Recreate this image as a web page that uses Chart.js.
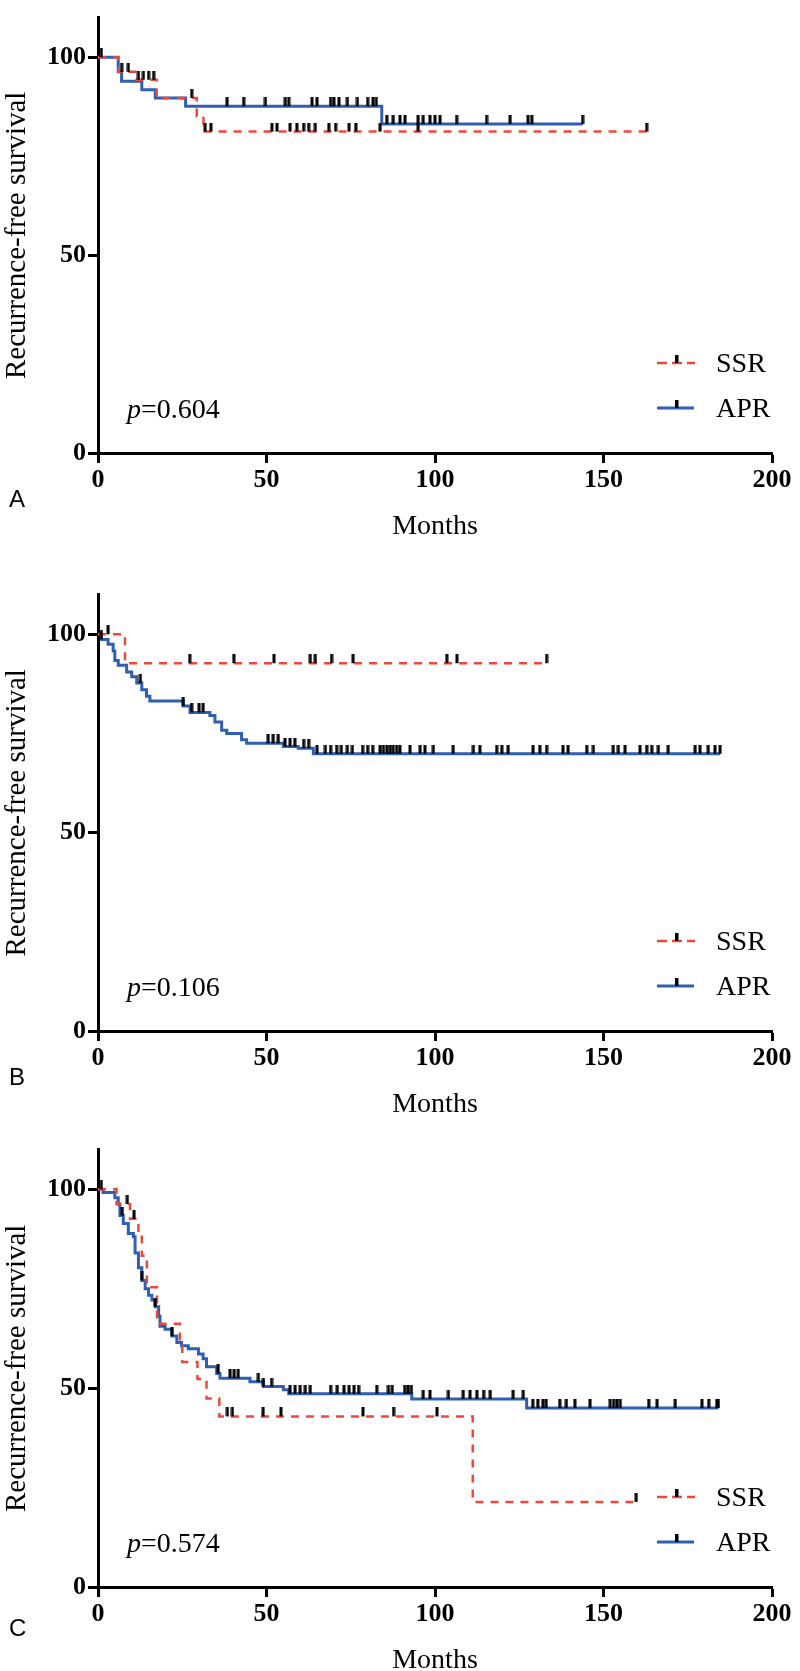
<!DOCTYPE html>
<html><head><meta charset="utf-8">
<script src="https://cdn.jsdelivr.net/npm/chart.js@4/dist/chart.umd.min.js"></script>
<style>
html,body{margin:0;padding:0;background:#fff;}
body{width:800px;height:1671px;overflow:hidden;position:relative;font-family:"Liberation Serif",serif;color:#000;}
canvas{position:absolute;left:0;}
.pv{position:absolute;left:127px;font-size:28px;line-height:1;transform:translateY(-50%);white-space:nowrap;z-index:2;}
.lgs{position:absolute;left:657px;width:40px;height:20px;transform:translateY(-60%);z-index:2;}
.lgt{position:absolute;left:716px;font-size:28px;line-height:1;transform:translateY(-50%);z-index:2;}
.let{position:absolute;left:9px;font-family:"Liberation Sans",sans-serif;font-size:24px;line-height:1;transform:translateY(-50%);z-index:2;}
</style></head><body>
<canvas id="cA" width="800" height="543" style="top:0px"></canvas>
<canvas id="cB" width="800" height="544" style="top:577px"></canvas>
<canvas id="cC" width="800" height="545" style="top:1132px"></canvas>

<div class="pv" style="top:409px"><i>p</i>=0.604</div>
<div class="pv" style="top:987px"><i>p</i>=0.106</div>
<div class="pv" style="top:1543px"><i>p</i>=0.574</div>

<svg class="lgs" style="top:363px" viewBox="0 0 40 20"><line x1="0" y1="12" x2="10" y2="12" stroke="#f0473c" stroke-width="2.5"/><line x1="15" y1="12" x2="25" y2="12" stroke="#f0473c" stroke-width="2.5"/><line x1="30" y1="12" x2="38" y2="12" stroke="#f0473c" stroke-width="2.5"/><rect x="18" y="4" width="3.5" height="8" fill="#000"/></svg>
<div class="lgt" style="top:363px">SSR</div>
<svg class="lgs" style="top:408px" viewBox="0 0 40 20"><line x1="0" y1="12" x2="37" y2="12" stroke="#2f5fb3" stroke-width="3"/><rect x="18" y="4" width="3.5" height="8" fill="#000"/></svg>
<div class="lgt" style="top:408px">APR</div>

<svg class="lgs" style="top:941px" viewBox="0 0 40 20"><line x1="0" y1="12" x2="10" y2="12" stroke="#f0473c" stroke-width="2.5"/><line x1="15" y1="12" x2="25" y2="12" stroke="#f0473c" stroke-width="2.5"/><line x1="30" y1="12" x2="38" y2="12" stroke="#f0473c" stroke-width="2.5"/><rect x="18" y="4" width="3.5" height="8" fill="#000"/></svg>
<div class="lgt" style="top:941px">SSR</div>
<svg class="lgs" style="top:986px" viewBox="0 0 40 20"><line x1="0" y1="12" x2="37" y2="12" stroke="#2f5fb3" stroke-width="3"/><rect x="18" y="4" width="3.5" height="8" fill="#000"/></svg>
<div class="lgt" style="top:986px">APR</div>

<svg class="lgs" style="top:1497px" viewBox="0 0 40 20"><line x1="0" y1="12" x2="10" y2="12" stroke="#f0473c" stroke-width="2.5"/><line x1="15" y1="12" x2="25" y2="12" stroke="#f0473c" stroke-width="2.5"/><line x1="30" y1="12" x2="38" y2="12" stroke="#f0473c" stroke-width="2.5"/><rect x="18" y="4" width="3.5" height="8" fill="#000"/></svg>
<div class="lgt" style="top:1497px">SSR</div>
<svg class="lgs" style="top:1542px" viewBox="0 0 40 20"><line x1="0" y1="12" x2="37" y2="12" stroke="#2f5fb3" stroke-width="3"/><rect x="18" y="4" width="3.5" height="8" fill="#000"/></svg>
<div class="lgt" style="top:1542px">APR</div>

<div class="let" style="top:499px">A</div>
<div class="let" style="top:1077px">B</div>
<div class="let" style="top:1628px">C</div>

<script>
// ---- shared axis ticks ----
const xTicks = [0, 50, 100, 150, 200];
const yTicks = [0, 50, 100];
const seriesNames = ['SSR', 'APR'];

// ---- Panel A ----
const aSsrTime = [0, 6, 11, 17.4, 29.3, 31.3, 162.8];
const aSsrSurv = [100, 96.3, 94.3, 89.7, 85.1, 81.2, 81.2];
const aSsrCens = [7, 9, 12, 13.5, 15, 16.5, 27.8, 31.8, 33.5, 51.6, 53.1, 57, 59, 61, 62.5, 64.5, 68.5, 70.5, 74.5, 76.5, 83.7, 95, 162.8];
const aAprTime = [0, 6, 7, 13, 17, 26, 84.2, 143.8];
const aAprSurv = [100, 96.3, 93.9, 91.8, 89.7, 87.6, 83.1, 83.1];
const aAprCens = [1, 38.3, 43.2, 49.7, 55.6, 56.6, 63.5, 65, 69, 70, 71.5, 74, 77, 80, 81.6, 82.6, 85.7, 87.6, 89.6, 91.1, 95, 96.5, 98.5, 100, 101.5, 106.4, 115.3, 122.3, 127.6, 128.7, 143.8];

// ---- Panel B ----
const bSsrTime = [0, 8, 133.1];
const bSsrSurv = [100, 92.7, 92.7];
const bSsrCens = [3, 27.2, 40.3, 52.2, 63, 64.5, 69.3, 75.7, 103.5, 106.5, 133.1];
const bAprTime = [0, 1, 3, 4.5, 5, 6, 8.5, 10, 11.5, 13, 14.4, 15.4, 25.3, 27.3, 33.2, 34.7, 36.7, 38.2, 42.6, 44.1, 55, 59.4, 63.9, 184.6];
const bAprSurv = [100, 98.7, 97.5, 95.8, 93.4, 92.2, 90.5, 89.3, 87.7, 86, 84.4, 83.2, 81.9, 80.3, 79.5, 77.9, 75.8, 75, 73.4, 72.5, 71.7, 71.3, 69.9, 69.9];
const bAprCens = [1, 12.6, 25.3, 27.8, 30, 31.2, 50.5, 52, 53.5, 55.5, 57, 58.4, 61, 62.5, 65, 67.5, 69, 70.8, 72.2, 74, 75.5, 78.5, 80, 81.5, 83.7, 84.7, 85.7, 86.7, 87.6, 88.6, 89.6, 92.6, 95.6, 97, 99.5, 105.4, 111.4, 113.3, 118.3, 119.8, 121.7, 129.1, 131.1, 133.1, 138, 139.5, 145, 147, 152.9, 154.4, 156.4, 160.8, 162.8, 164.3, 166.3, 169.2, 177.2, 178.6, 181.1, 183.1, 184.6];

// ---- Panel C ----
const cSsrTime = [0, 5.5, 9.5, 12, 13, 14.5, 17.5, 24.3, 25, 29.5, 32.2, 36, 111.2, 159.7];
const cSsrSurv = [100, 96.3, 92.6, 88.9, 83.3, 75.4, 66.2, 61.8, 56.6, 52.3, 47.4, 42.9, 21.4, 21.4];
const cSsrCens = [8.7, 10.7, 38.4, 39.9, 49, 54.3, 78.6, 87.7, 100.6, 159.7];
const cAprTime = [0, 1.5, 5, 6, 6.5, 7.5, 9, 10.5, 11, 12, 13, 14, 15, 16, 17, 18, 18.4, 19.9, 21.9, 23.4, 24.8, 26.8, 29.8, 31.2, 32.2, 35.2, 36.2, 45.1, 49.1, 55, 56.6, 93.1, 127.2, 184.1];
const cAprSurv = [100, 99.2, 97.9, 96.3, 93.4, 91.4, 88.9, 88.1, 84, 80.3, 77.1, 75, 73.4, 72.2, 70.5, 68.1, 65.6, 64.8, 63.1, 61.5, 60.7, 59.9, 58.6, 57.4, 55.4, 53.7, 52.5, 51.6, 50.4, 49.6, 48.6, 47.3, 45.0, 45.0];
const cAprCens = [1, 7.2, 13, 17, 22, 35.7, 39.2, 40.4, 41.6, 47.6, 49.1, 51.5, 57, 58.5, 60, 61.5, 63, 69, 71, 73, 74.5, 76, 77.3, 82.7, 86.2, 87.3, 91, 92, 93, 96.5, 98.5, 104, 108.4, 110.4, 112.4, 114.4, 116.4, 123.2, 126.2, 129, 130.5, 132, 133, 137, 139, 141.5, 146, 152, 153, 154, 155, 163.4, 165.9, 171.3, 179.2, 181.2, 183.6, 184.1];

const RED = '#f0473c';
const BLUE = '#2f5fb3';

function stepPoints(times, surv) {
  return times.map((t, i) => ({x: t, y: surv[i]}));
}
function survAt(times, surv, t) {
  let v = surv[0];
  for (let i = 0; i < times.length; i++) { if (times[i] <= t) v = surv[i]; }
  return v;
}
function censPoints(cens, times, surv) {
  return cens.map(t => ({x: t, y: survAt(times, surv, t)}));
}
// censor mark: short black bar sitting on top of the curve
const tickImg = document.createElement('canvas');
tickImg.width = 4; tickImg.height = 18;
(function(){ const g = tickImg.getContext('2d'); g.fillStyle = '#000'; g.fillRect(0.5, 0, 3, 9); })();

const serif = 'Liberation Serif';

function makeChart(id, ssrT, ssrS, ssrC, aprT, aprS, aprC) {
  return new Chart(document.getElementById(id), {
    type: 'line',
    data: {
      datasets: [
        {label: seriesNames[0] + ' censored', type: 'scatter', data: censPoints(ssrC, ssrT, ssrS), pointStyle: tickImg, pointRadius: 4, order: 0},
        {label: seriesNames[1] + ' censored', type: 'scatter', data: censPoints(aprC, aprT, aprS), pointStyle: tickImg, pointRadius: 4, order: 0},
        {label: seriesNames[0], data: stepPoints(ssrT, ssrS), stepped: true, borderColor: RED, borderWidth: 2.5, borderDash: [8, 7], pointRadius: 0, fill: false, order: 1},
        {label: seriesNames[1], data: stepPoints(aprT, aprS), stepped: true, borderColor: BLUE, borderWidth: 3, pointRadius: 0, fill: false, order: 2}
      ]
    },
    options: {
      responsive: false,
      animation: false,
      events: [],
      layout: {padding: {top: 5, left: 0, right: 28, bottom: 0}},
      plugins: {legend: {display: false}, tooltip: {enabled: false}},
      scales: {
        x: {
          type: 'linear', min: 0, max: 200,
          afterBuildTicks: s => { s.ticks = xTicks.map(v => ({value: v})); },
          afterFit: s => { s.height = 90; },
          border: {display: true, color: '#000', width: 3},
          grid: {display: true, drawOnChartArea: false, drawTicks: true, tickLength: 10, tickWidth: 3, tickColor: '#000'},
          ticks: {color: '#000', font: {family: serif, size: 26, weight: 'bold'}, padding: 2, maxRotation: 0, autoSkip: false},
          title: {display: true, text: 'Months', color: '#000', font: {family: serif, size: 28}, padding: 0}
        },
        y: {
          type: 'linear', min: 0, max: 110,
          afterBuildTicks: s => { s.ticks = yTicks.map(v => ({value: v})); },
          afterFit: s => { s.width = 98; },
          border: {display: true, color: '#000', width: 3},
          grid: {display: true, drawOnChartArea: false, drawTicks: true, tickLength: 10, tickWidth: 3, tickColor: '#000'},
          ticks: {color: '#000', font: {family: serif, size: 26, weight: 'bold'}, padding: 2, autoSkip: false},
          title: {display: true, text: 'Recurrence-free survival', color: '#000', font: {family: serif, size: 29}, padding: 0}
        }
      }
    }
  });
}

makeChart('cA', aSsrTime, aSsrSurv, aSsrCens, aAprTime, aAprSurv, aAprCens);
makeChart('cB', bSsrTime, bSsrSurv, bSsrCens, bAprTime, bAprSurv, bAprCens);
makeChart('cC', cSsrTime, cSsrSurv, cSsrCens, cAprTime, cAprSurv, cAprCens);
</script>
</body></html>
